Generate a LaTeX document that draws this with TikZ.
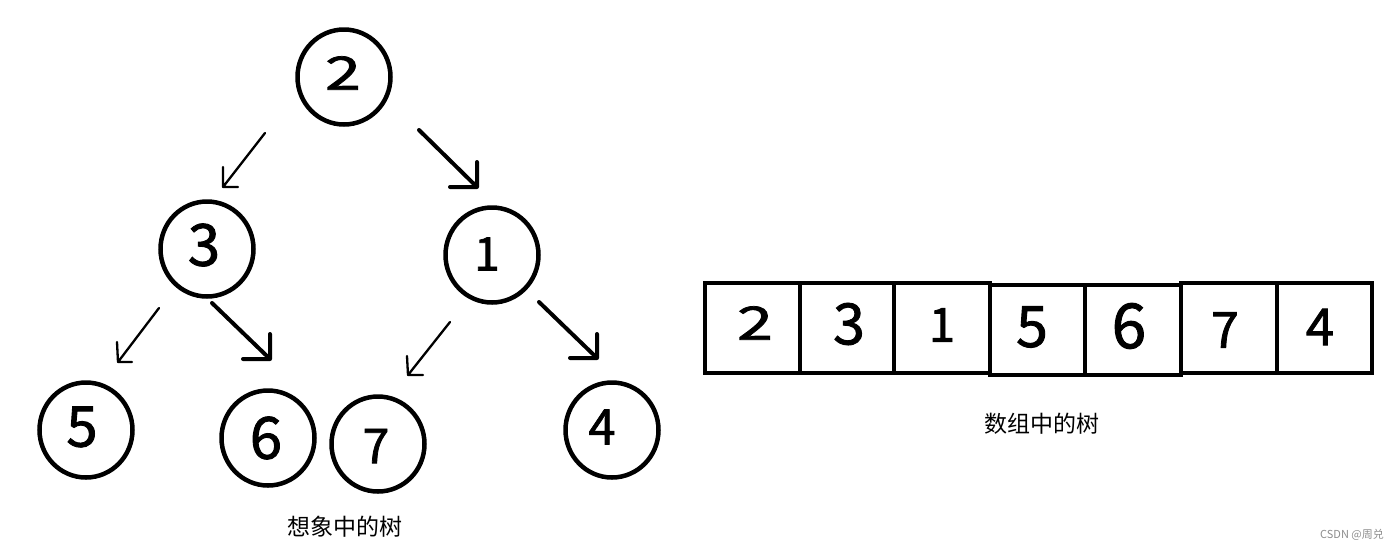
\documentclass[tikz,border=0pt]{standalone}
\usepackage{fontspec}
\setmainfont{Noto Sans CJK SC}
\newfontfamily\digf[FakeBold=1.6]{Noto Sans CJK SC}
\usetikzlibrary{shapes.geometric}
\newcommand\dgt[2]{{\digf\fontsize{#1}{#1}\selectfont #2}}
\begin{document}
\begin{tikzpicture}[x=1pt,y=-1pt,
  circ/.style={draw,ellipse,line width=4.5pt,minimum width=93pt,minimum height=95pt,inner sep=0pt},
  dig/.style={inner sep=0pt,text=black},
  cell/.style={draw,line width=4.5pt,minimum height=90pt,inner sep=0pt},
  thinarr/.style={line width=2.3pt,line cap=round},
  thickarr/.style={line width=4pt,line cap=round},
  captxt/.style={inner sep=0pt,font=\fontsize{23}{23}\selectfont}]
\useasboundingbox (0,0) rectangle (1399,550);
% tree circles
\node[circ] (c2) at (344,77) {};
\node[circ] (c3) at (207,249) {};
\node[circ] (c1) at (492,255) {};
\node[circ] (c5) at (86,430) {};
\node[circ] (c6) at (268,438) {};
\node[circ] (c7) at (378,444) {};
\node[circ] (c4) at (612,430) {};
% digits in circles
\node[dig] (t2) at (343,73) {\scalebox{1.4}[1]{\dgt{46}{2}}};
\node[dig] (t3) at (204,245) {\dgt{58}{3}};
\node[dig] (t1) at (487,254) {\dgt{46}{1}};
\node[dig] (t5) at (82,427) {\dgt{56}{5}};
\node[dig] (t6) at (266,438) {\dgt{58}{6}};
\node[dig] (t7) at (376,446) {\dgt{48}{7}};
\node[dig] (t4) at (602,427) {\dgt{49}{4}};
% arrows
\coordinate (a1s) at (265,133); \coordinate (a1t) at (223,187);
\coordinate (a2s) at (419,130); \coordinate (a2t) at (477,187);
\coordinate (a3s) at (159,308); \coordinate (a3t) at (118,362);
\coordinate (a4s) at (212,303); \coordinate (a4t) at (270,359);
\coordinate (a5s) at (450,322); \coordinate (a5t) at (408,375);
\coordinate (a6s) at (539,302); \coordinate (a6t) at (597,358);
\draw[thinarr] (a1s) -- (a1t) (a1t) -- ++(0,-20) (a1t) -- ++(15,0);
\draw[thickarr] (a2s) -- (a2t) (a2t) -- ++(0,-25) (a2t) -- ++(-27,0);
\draw[thinarr] (a3s) -- (a3t) (a3t) -- ++(-1,-20) (a3t) -- ++(14,0);
\draw[thickarr] (a4s) -- (a4t) (a4t) -- ++(0,-25) (a4t) -- ++(-27,0);
\draw[thinarr] (a5s) -- (a5t) (a5t) -- ++(-1,-19) (a5t) -- ++(15,0);
\draw[thickarr] (a6s) -- (a6t) (a6t) -- ++(0,-24) (a6t) -- ++(-27,0);
% caption
\node[captxt] (l1) at (345,527) {想象中的树};
% array
\node[cell,minimum width=95pt] (b1) at (752.5,328) {};
\node[cell,minimum width=94pt] (b2) at (847,328) {};
\node[cell,minimum width=96pt] (b3) at (942,328) {};
\node[cell,minimum width=95pt] (b4) at (1037.5,330) {};
\node[cell,minimum width=96pt] (b5) at (1133,330) {};
\node[cell,minimum width=96pt] (b6) at (1229,328) {};
\node[cell,minimum width=95pt] (b7) at (1324.5,328) {};
\node[dig] (s1) at (755,323) {\scalebox{1.4}[1]{\dgt{46}{2}}};
\node[dig] (s2) at (849,324) {\dgt{57}{3}};
\node[dig] (s3) at (942,325) {\dgt{47}{1}};
\node[dig] (s4) at (1032,327) {\dgt{57}{5}};
\node[dig] (s5) at (1129,326) {\dgt{62}{6}};
\node[dig] (s6) at (1225,330) {\dgt{50}{7}};
\node[dig] (s7) at (1320,327) {\dgt{51}{4}};
\node[captxt] (l2) at (1042,424) {数组中的树};
% watermark
\node[inner sep=0pt,text=black!45,font=\fontsize{11}{11}\selectfont] (wm) at (1352,535) {CSDN @周兑};
\end{tikzpicture}
\end{document}
